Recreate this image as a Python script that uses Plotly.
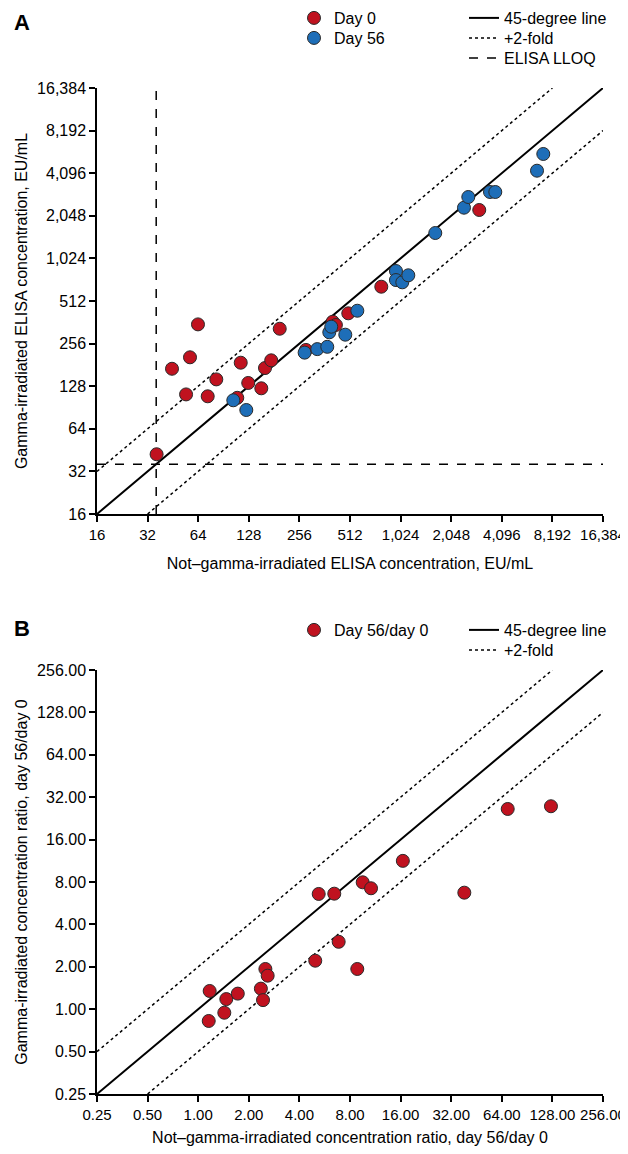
import math
import plotly.graph_objects as go

# ---------------- Panel A data (EU/mL) ----------------
day0_not_irr = [36.2, 44.7, 57.2, 63.8, 54.2, 72.9, 82.0, 109.3, 114.6, 127.0,
                151.9, 159.8, 174.0, 195.5, 280.0, 404.0, 422.0, 500.0, 786.0, 3008.0]
day0_irr = [42.3, 170.0, 204.8, 350.0, 112.0, 108.6, 143.0, 106.0, 187.6, 134.9,
            123.7, 172.0, 195.0, 326.0, 231.0, 365.6, 346.6, 419.0, 646.0, 2251.0]

day56_not_irr = [103.5, 123.7, 275.0, 327.0, 375.0, 385.6, 396.0, 480.0, 566.0, 961.0,
                 961.0, 1048.0, 1138.0, 1647.0, 2440.0, 2589.0, 3485.0, 3747.0, 6635.0, 7232.0]
day56_irr = [101.8, 86.9, 221.0, 234.0, 243.0, 307.6, 337.0, 296.0, 437.0, 834.0,
             720.0, 694.0, 778.0, 1548.0, 2337.0, 2781.0, 3017.0, 3017.0, 4267.0, 5600.0]

elisa_lloq = 36.0

a_tickvals = [16, 32, 64, 128, 256, 512, 1024, 2048, 4096, 8192, 16384]
a_ticktext = ["16", "32", "64", "128", "256", "512", "1,024", "2,048", "4,096", "8,192", "16,384"]

# ---------------- Panel B data (ratio day 56/day 0) ----------------
ratio_not_irr = [1.155, 1.17, 1.43, 1.47, 1.72, 2.36, 2.43, 2.51, 2.59, 4.97,
                 6.85, 8.84, 5.21, 6.45, 9.52, 10.67, 16.5, 38.3, 69.4, 125.5]
ratio_irr = [0.825, 1.347, 0.944, 1.18, 1.29, 1.40, 1.16, 1.93, 1.73, 2.21,
             3.01, 1.93, 6.58, 6.61, 7.96, 7.22, 11.3, 6.72, 26.4, 27.6]

b_tickvals = [0.25, 0.5, 1, 2, 4, 8, 16, 32, 64, 128, 256]
b_ticktext = ["0.25", "0.50", "1.00", "2.00", "4.00", "8.00", "16.00", "32.00", "64.00", "128.00", "256.00"]

RED = "#C0121F"
BLUE = "#1E6EB8"
FONT = "Liberation Sans, Arial, sans-serif"
FS = 16
YTFS = 16
XTFS = 15

# the page body adds an 8 px margin on every side; size the figure so the page
# does not overflow the 628x1154 window (no scrollbars)
OFF = 8
W, H = 628 - OFF, 1154 - 2 * OFF
# plot areas in page pixels (converted to figure pixels below)
AX0, AX1 = 97 - OFF, 603 - OFF
AY0, AY1 = 88 - OFF, 514 - OFF
BY0, BY1 = 670 - OFF, 1094 - OFF

fig = go.Figure()

marker_line = dict(color="#2a2a2a", width=1)
MS = 13

# ---- Panel A reference lines ----
amin, amax = a_tickvals[0], a_tickvals[-1]
fig.add_trace(go.Scatter(x=[amin, amax], y=[amin, amax], mode="lines",
                         line=dict(color="black", width=2), name="45-degree line",
                         legend="legend3", xaxis="x", yaxis="y", hoverinfo="skip"))
fig.add_trace(go.Scatter(x=[amin, amax / 2, None, amin * 2, amax],
                         y=[amin * 2, amax, None, amin, amax / 2], mode="lines",
                         line=dict(color="black", width=1.5, dash="dot"), name="+2-fold",
                         legend="legend4", xaxis="x", yaxis="y", hoverinfo="skip"))
fig.add_trace(go.Scatter(x=[elisa_lloq, elisa_lloq, None, amin, amax],
                         y=[amin, amax, None, elisa_lloq, elisa_lloq], mode="lines",
                         line=dict(color="black", width=1.5, dash="dash"), name="ELISA LLOQ",
                         legend="legend5", xaxis="x", yaxis="y", hoverinfo="skip"))

# ---- Panel A points ----
fig.add_trace(go.Scatter(x=day0_not_irr, y=day0_irr, mode="markers", name="Day 0",
                         marker=dict(color=RED, size=MS, line=marker_line), showlegend=True,
                         legend="legend", xaxis="x", yaxis="y"))
fig.add_trace(go.Scatter(x=day56_not_irr, y=day56_irr, mode="markers", name="Day 56",
                         marker=dict(color=BLUE, size=MS, line=marker_line),
                         legend="legend2", xaxis="x", yaxis="y"))

# ---- Panel B reference lines ----
bmin, bmax = b_tickvals[0], b_tickvals[-1]
fig.add_trace(go.Scatter(x=[bmin, bmax], y=[bmin, bmax], mode="lines",
                         line=dict(color="black", width=2), name="45-degree line",
                         legend="legend7", xaxis="x2", yaxis="y2", hoverinfo="skip"))
fig.add_trace(go.Scatter(x=[bmin, bmax / 2, None, bmin * 2, bmax],
                         y=[bmin * 2, bmax, None, bmin, bmax / 2], mode="lines",
                         line=dict(color="black", width=1.5, dash="dot"), name="+2-fold",
                         legend="legend8", xaxis="x2", yaxis="y2", hoverinfo="skip"))

# ---- Panel B points ----
fig.add_trace(go.Scatter(x=ratio_not_irr, y=ratio_irr, mode="markers", name="Day 56/day 0",
                         marker=dict(color=RED, size=MS, line=marker_line),
                         legend="legend6", xaxis="x2", yaxis="y2"))


def axis_common(vals, text, rng, tfs):
    return dict(type="log", range=[math.log10(rng[0]), math.log10(rng[1])],
                tickmode="array", tickvals=vals, ticktext=text, tickangle=0,
                ticklabeloverflow="allow",
                showline=True, linecolor="black", linewidth=1.5,
                ticks="outside", ticklen=6, tickwidth=1.5, tickcolor="black",
                showgrid=False, zeroline=False, automargin=False,
                tickfont=dict(family=FONT, size=tfs, color="black"),
                title_font=dict(family=FONT, size=FS, color="black"))


xdom = [AX0 / W, AX1 / W]
ya_dom = [1 - AY1 / H, 1 - AY0 / H]
yb_dom = [1 - BY1 / H, 1 - BY0 / H]


def leg(fig_x, row_center_page_y):
    # legend item centre sits ~16 px below the legend's top edge
    top = row_center_page_y - OFF - 16
    return dict(x=fig_x / W, y=1 - top / H, visible=True,
                font=dict(family=FONT, size=FS, color="black"), bgcolor="rgba(0,0,0,0)",
                borderwidth=0, xanchor="left", yanchor="top", itemwidth=30,
                itemclick=False, itemdoubleclick=False)


MX = 286   # marker legends (figure px)
LX = 456   # line legends (figure px)

fig.update_layout(
    width=W, height=H,
    showlegend=True,
    margin=dict(l=0, r=0, t=0, b=0, autoexpand=False),
    paper_bgcolor="white", plot_bgcolor="white",
    font=dict(family=FONT, size=FS, color="black"),
    xaxis=dict(domain=xdom, anchor="y",
               title=dict(text="Not\u2013gamma-irradiated ELISA concentration, EU/mL", standoff=16),
               **axis_common(a_tickvals, a_ticktext, (amin, amax), XTFS)),
    yaxis=dict(domain=ya_dom, anchor="x",
               title=dict(text="Gamma-irradiated ELISA concentration, EU/mL", standoff=6),
               **axis_common(a_tickvals, a_ticktext, (amin, amax), YTFS)),
    xaxis2=dict(domain=xdom, anchor="y2",
                title=dict(text="Not\u2013gamma-irradiated concentration ratio, day 56/day 0", standoff=13),
                **axis_common(b_tickvals, b_ticktext, (bmin, bmax), XTFS)),
    yaxis2=dict(domain=yb_dom, anchor="x2",
                title=dict(text="Gamma-irradiated concentration ratio, day 56/day 0", standoff=6),
                **axis_common(b_tickvals, b_ticktext, (bmin, bmax), YTFS)),
    legend=leg(MX, 17),
    legend2=leg(MX, 37),
    legend3=leg(LX, 17),
    legend4=leg(LX, 37),
    legend5=leg(LX, 57),
    legend6=leg(MX, 629),
    legend7=leg(LX, 629),
    legend8=leg(LX, 649),
    annotations=[
        dict(text="<b>A</b>", x=4 / W, y=1 - (22 - OFF) / H, xref="paper", yref="paper",
             xanchor="left", yanchor="middle", showarrow=False,
             font=dict(family=FONT, size=22, color="black")),
        dict(text="<b>B</b>", x=4 / W, y=1 - (628 - OFF) / H, xref="paper", yref="paper",
             xanchor="left", yanchor="middle", showarrow=False,
             font=dict(family=FONT, size=22, color="black")),
    ],
)

fig.write_html("out.html")
